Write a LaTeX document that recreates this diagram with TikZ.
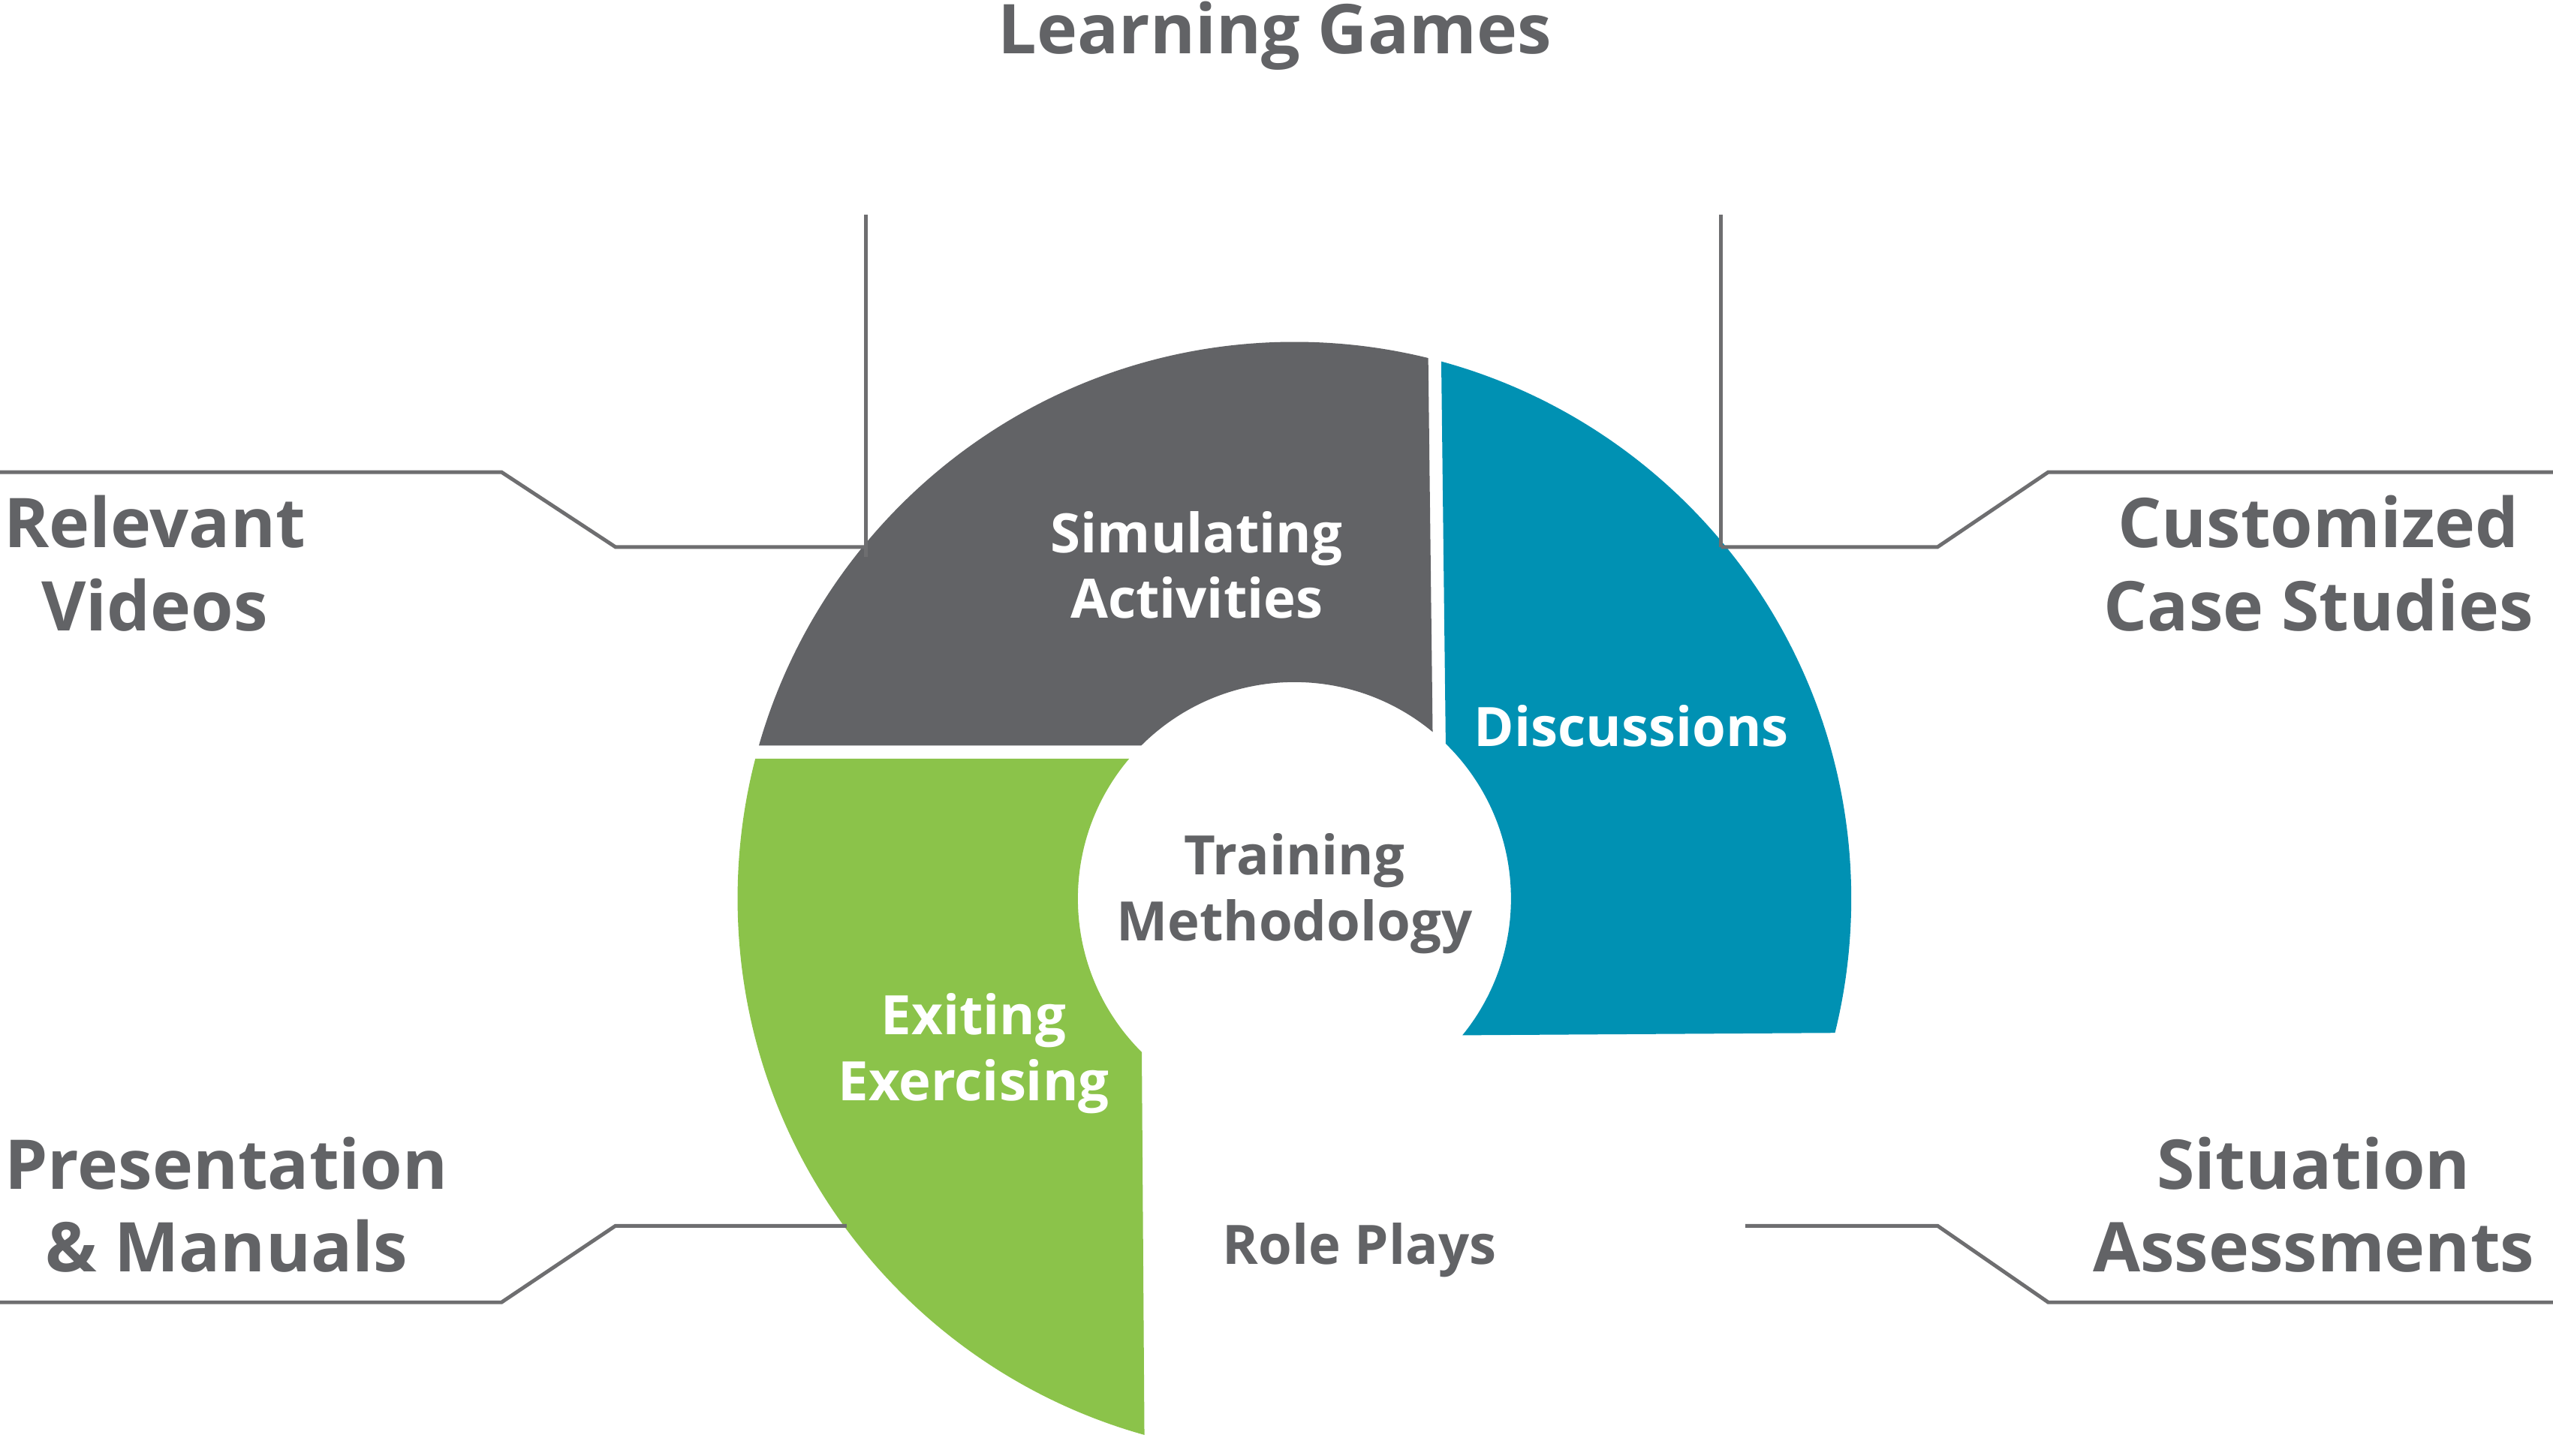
\documentclass[tikz,border=0pt]{standalone}
\usepackage{fontspec}
\setmainfont{Open Sans}
\definecolor{dg}{HTML}{626366}
\definecolor{bl}{HTML}{0091B3}
\definecolor{gr}{HTML}{8BC34A}
\definecolor{ln}{HTML}{6E6E70}
\begin{document}
\begin{tikzpicture}[x=0.02cm,y=-0.02cm,
  big/.style={font=\fontsize{24}{29}\selectfont\bfseries, text=dg, align=center},
  mid/.style={font=\fontsize{19}{23}\selectfont\bfseries, align=center},
  conn/.style={draw=ln, line width=1.3pt}]
\useasboundingbox (0,0) rectangle (1568,894);
\def\ann{(795,552) circle (342) (795,552) circle (133)}
\begin{scope}
 \clip (400,120) -- (876,120) -- (880,458) -- (400,458) -- cycle;
 \fill[dg, even odd rule] \ann;
\end{scope}
\begin{scope}
 \clip (400,466) -- (700,466) -- (703,900) -- (400,900) -- cycle;
 \fill[gr, even odd rule] \ann;
\end{scope}
\begin{scope}
 \clip (884,120) -- (1200,120) -- (1200,634) -- (890,636) -- cycle;
 \fill[bl, even odd rule] \ann;
\end{scope}
\coordinate (v1a) at (532,132); \coordinate (v1b) at (532,342);
\coordinate (v2a) at (1057,132); \coordinate (v2b) at (1057,336);
\draw[conn] (v1a) -- (v1b);
\draw[conn] (v2a) -- (v2b);
\coordinate (l1) at (0,290); \coordinate (l2) at (308,290); \coordinate (l3) at (378,336); \coordinate (l4) at (532,336);
\draw[conn] (l1) -- (l2) -- (l3) -- (l4);
\coordinate (r1) at (1568,290); \coordinate (r2) at (1258,290); \coordinate (r3) at (1190,336); \coordinate (r4) at (1057,336);
\draw[conn] (r1) -- (r2) -- (r3) -- (r4);
\coordinate (bl1) at (0,800); \coordinate (bl2) at (308,800); \coordinate (bl3) at (378,753); \coordinate (bl4) at (520,753);
\draw[conn] (bl1) -- (bl2) -- (bl3) -- (bl4);
\coordinate (br1) at (1568,800); \coordinate (br2) at (1258,800); \coordinate (br3) at (1190,753); \coordinate (br4) at (1072,753);
\draw[conn] (br1) -- (br2) -- (br3) -- (br4);
\node[big] (lg) at (783,22) {Learning Games};
\node[big] (rv) at (95,346) {Relevant\\Videos};
\node[big] (cc) at (1424,346) {Customized\\Case Studies};
\node[big] (pm) at (139,740) {Presentation\\\& Manuals};
\node[big] (sa) at (1421,740) {Situation\\Assessments};
\node[mid, text=dg] (rp) at (835,768) {Role Plays};
\node[mid, text=dg] (tm) at (795,549) {Training\\Methodology};
\node[mid, text=white] (sm) at (735,347) {Simulating\\Activities};
\node[mid, text=white] (ds) at (1002,446) {Discussions};
\node[mid, text=white] (ex) at (598,647) {Exiting\\Exercising};
\end{tikzpicture}
\end{document}
